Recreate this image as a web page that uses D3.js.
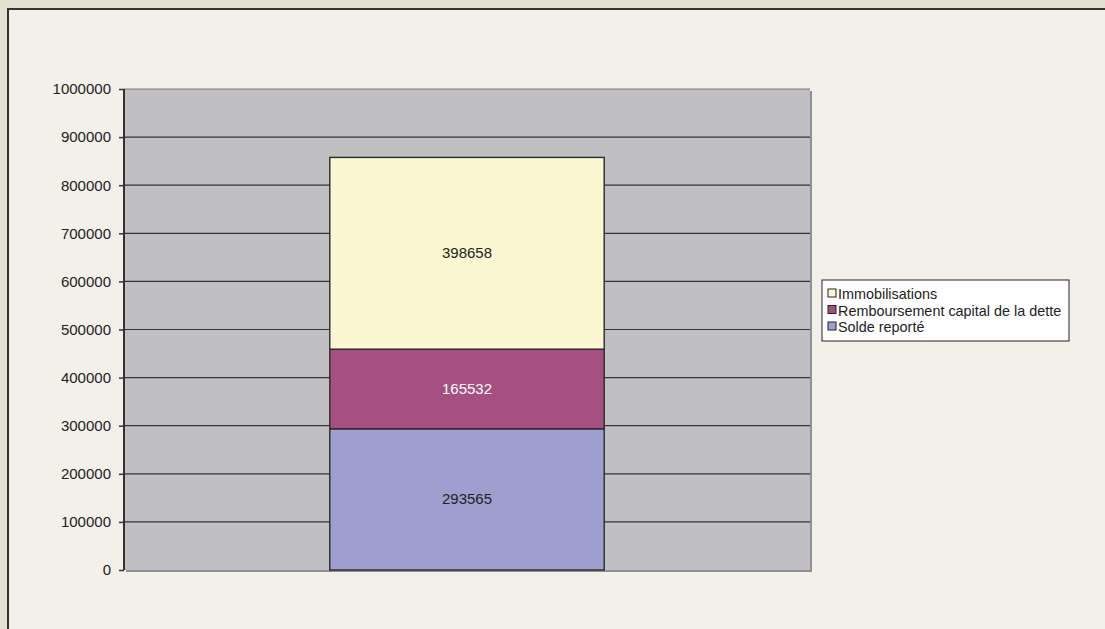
<!DOCTYPE html>
<html>
<head>
<meta charset="utf-8">
<script src="https://cdn.jsdelivr.net/npm/d3@7"></script>
<style>
  body { margin: 0; background: #e4e1d3; }
  svg { display: block; font-family: "Liberation Sans", Arial, sans-serif; }
</style>
</head>
<body>
<svg id="chart"></svg>
<script>
var categories = ['2008'];
var seriesNames = ['Solde reporté', 'Remboursement capital de la dette', 'Immobilisations'];
var seriesValues = [[293565], [165532], [398658]];
var seriesColors = ['#9e9fcf', '#a64f81', '#faf7d2'];
var labelColors = ['#222', '#fff', '#222'];
var yTicks = [0, 100000, 200000, 300000, 400000, 500000, 600000, 700000, 800000, 900000, 1000000];

var width = 1105, height = 629;
var plotLeft = 124, plotRight = 810, plotTop = 89, plotBottom = 570;

var svg = d3.select('#chart').attr('width', width).attr('height', height);

// outer frame
svg.append('rect').attr('x', 0).attr('y', 0).attr('width', width).attr('height', height).attr('fill', '#e4e1d3');
svg.append('rect').attr('x', 8).attr('y', 9).attr('width', width + 10).attr('height', height + 10)
  .attr('fill', '#f3f0ea').attr('stroke', '#333').attr('stroke-width', 2);

var x = d3.scaleBand().domain(categories).range([plotLeft, plotRight]).paddingInner(0.6).paddingOuter(0.3);
var y = d3.scaleLinear().domain([0, 1000000]).range([plotBottom, plotTop]);

// plot area with shadow
svg.append('rect').attr('x', plotLeft + 2).attr('y', plotTop + 2).attr('width', plotRight - plotLeft).attr('height', plotBottom - plotTop)
  .attr('fill', '#8f8f95');
svg.append('rect').attr('x', plotLeft).attr('y', plotTop).attr('width', plotRight - plotLeft).attr('height', plotBottom - plotTop)
  .attr('fill', '#c0c0c2');

// gridlines
svg.append('g').selectAll('line').data(yTicks.filter(function (d) { return d > 0; }))
  .enter().append('line')
    .attr('x1', plotLeft).attr('x2', plotRight)
    .attr('y1', function (d) { return y(d); })
    .attr('y2', function (d) { return y(d); })
    .attr('stroke', function (d) { return d === 1000000 ? '#777' : '#333'; })
    .attr('stroke-width', 1.2);

// stacked bars
var stackData = categories.map(function (c, i) {
  var row = { cat: c };
  seriesNames.forEach(function (s, j) { row[s] = seriesValues[j][i]; });
  return row;
});
var stacked = d3.stack().keys(seriesNames)(stackData);

var layers = svg.append('g').selectAll('g').data(stacked).enter().append('g')
  .attr('fill', function (d, i) { return seriesColors[i]; });

layers.selectAll('rect').data(function (d) { return d; })
  .enter().append('rect')
    .attr('x', function (d) { return x(d.data.cat); })
    .attr('width', x.bandwidth())
    .attr('y', function (d) { return y(d[1]); })
    .attr('height', function (d) { return y(d[0]) - y(d[1]); })
    .attr('stroke', '#2a2a2a')
    .attr('stroke-width', 1.4);

layers.each(function (layer, i) {
  d3.select(this).selectAll('text').data(layer).enter().append('text')
    .attr('x', function (d) { return x(d.data.cat) + x.bandwidth() / 2; })
    .attr('y', function (d) { return (y(d[0]) + y(d[1])) / 2 + 5; })
    .attr('text-anchor', 'middle')
    .attr('font-size', 15)
    .attr('fill', labelColors[i])
    .text(function (d) { return d[1] - d[0]; });
});

// y axis
var axis = svg.append('g').attr('transform', 'translate(' + plotLeft + ',0)')
  .call(d3.axisLeft(y).tickValues(yTicks).tickSize(5).tickPadding(8).tickFormat(d3.format('d')));
axis.select('.domain').attr('stroke', '#333').attr('stroke-width', 2).attr('d', 'M0,' + plotTop + 'V' + plotBottom);
axis.selectAll('.tick line').attr('stroke', '#333').attr('stroke-width', 1.5);
axis.selectAll('.tick text').attr('font-size', 15).attr('fill', '#222')
  .attr('font-family', '"Liberation Sans", Arial, sans-serif');

// legend
var legend = svg.append('g').attr('transform', 'translate(822,280)');
legend.append('rect').attr('width', 247).attr('height', 61)
  .attr('fill', '#fff').attr('stroke', '#222').attr('stroke-width', 1);
var legendOrder = [2, 1, 0];
legend.selectAll('g.item').data(legendOrder).enter().append('g')
  .attr('class', 'item')
  .attr('transform', function (d, i) { return 'translate(6,' + (19 + i * 16.5) + ')'; })
  .each(function (d) {
    var g = d3.select(this);
    g.append('rect').attr('x', 0).attr('y', -10).attr('width', 8).attr('height', 8)
      .attr('fill', seriesColors[d]).attr('stroke', '#222').attr('stroke-width', 1);
    g.append('text').attr('x', 10).attr('y', 0).attr('font-size', 14.4).attr('fill', '#222')
      .text(seriesNames[d]);
  });
</script>
</body>
</html>
